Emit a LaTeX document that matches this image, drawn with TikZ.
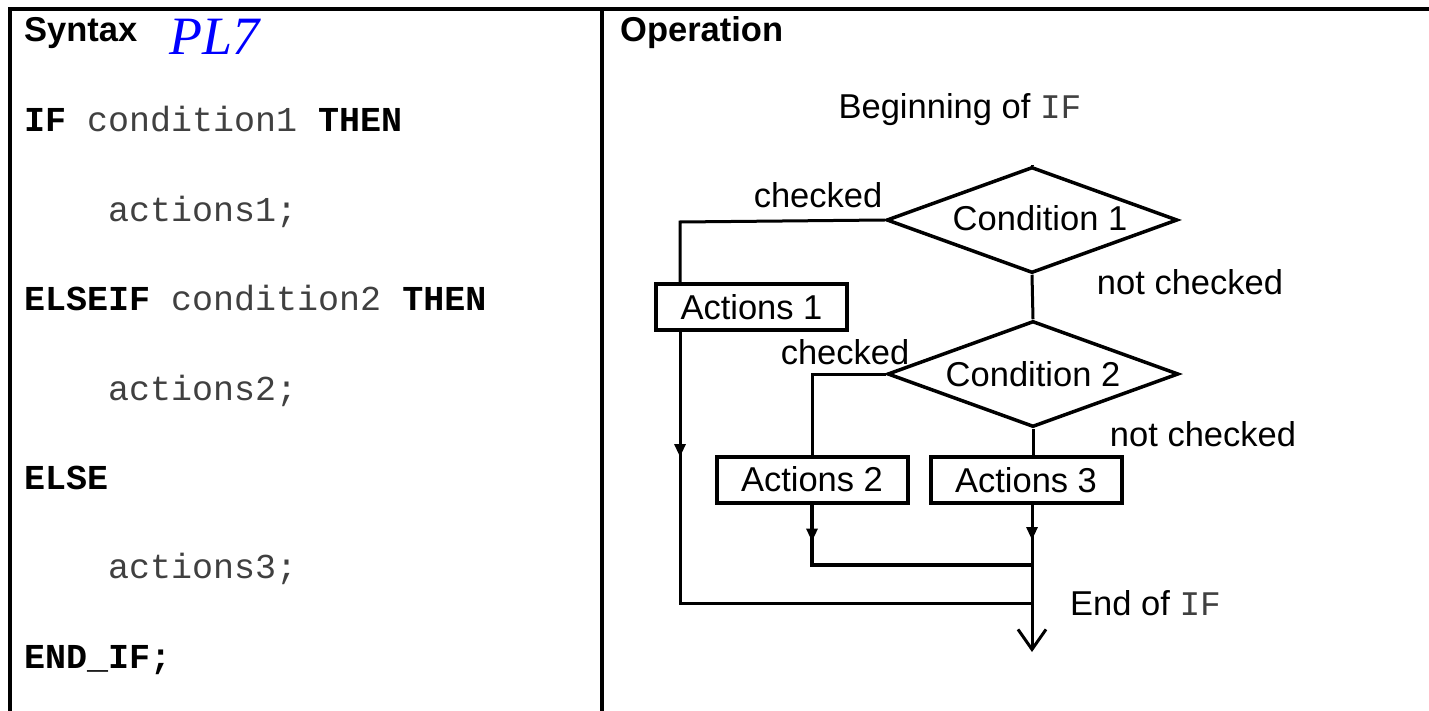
\documentclass[tikz,border=0pt]{standalone}
\usepackage{fontspec}
\setmainfont{Liberation Sans}
\setmonofont{Liberation Mono}
\newfontfamily\plfont{Liberation Serif}
\definecolor{plblue}{HTML}{0000FF}
\definecolor{codegray}{HTML}{404040}
\usetikzlibrary{arrows.meta, decorations.markings, shapes.geometric}

\begin{document}
\begin{tikzpicture}[x=1pt, y=-1pt,
  frame/.style={line width=4pt},
  head/.style={anchor=base west, inner sep=0pt, font=\fontsize{34.5}{40}\selectfont\bfseries},
  code/.style={anchor=base west, inner sep=0pt, text=codegray, font=\fontsize{35}{40}\selectfont\ttfamily},
  txt/.style={font=\fontsize{34.5}{40}\selectfont, inner sep=0pt},
  cond/.style={draw, diamond, line width=3.5pt, aspect=2.745, inner sep=0pt,
    minimum width=291pt, minimum height=106pt, txt},
  actbox/.style={draw, rectangle, line width=4pt, minimum width=191pt,
    minimum height=46pt, txt},
  flow/.style={line width=3pt},
  midarrow/.style={postaction=decorate, decoration={markings,
    mark=at position #1 with {\arrow{Triangle[length=13pt,width=11pt]}}}}
]
\useasboundingbox (0,0) rectangle (1429,711);

% frame
\draw[frame] (10,711) -- (10,9) -- (1429,9);
\draw[frame] (602,9) -- (602,711);

% syntax side
\node[head] (syn) at (24,42) {Syntax};
\node[anchor=base west, text=plblue, font=\fontsize{54}{60}\selectfont\plfont\itshape] (pl) at (166,55) {PL7};
\node[code] (l1) at (24,132) {{\color{black}\bfseries IF} condition1 {\color{black}\bfseries THEN}};
\node[code] (l2) at (24,222) {\ \ \ \ actions1;};
\node[code] (l3) at (24,310) {{\color{black}\bfseries ELSEIF} condition2 {\color{black}\bfseries THEN}};
\node[code] (l4) at (24,400) {\ \ \ \ actions2;};
\node[code, text=black] (l5) at (24,489) {\bfseries ELSE};
\node[code] (l6) at (24,578) {\ \ \ \ actions3;};
\node[code, text=black] (l7) at (24,668) {\bfseries END\_IF;};

% operation side
\node[head] (op) at (620,42) {Operation};
\node[txt, anchor=base] (beg) at (960,119) {Beginning of {\color{codegray}\ttfamily IF}};
\coordinate (top) at (1032,165);
\node[cond] (d1) at (1032,220) {\raisebox{4pt}{\hspace*{16pt}Condition 1}};
\node[cond] (d2) at (1033,374) {Condition 2};
\node[actbox] (a1) at (751.5,307) {Actions 1};
\node[actbox] (a2) at (812,479.5) {Actions 2};
\node[actbox] (a3) at (1026,480) {Actions 3};
\coordinate (c1) at (680,222);
\coordinate (join) at (1032,565);
\coordinate (fin) at (1032,603);
\coordinate (exit) at (1032,652);

\node[txt] (chk1) at (818,195) {checked};
\node[txt] (nchk1) at (1190,282) {not checked};
\node[txt] (chk2) at (845,352) {checked};
\node[txt] (nchk2) at (1203,434) {not checked};
\node[txt, anchor=base west] (endif) at (1070,615) {End of {\color{codegray}\ttfamily IF}};

% connectors
\draw[flow] (top) -- (d1.north);
\draw[flow] (d1.south) -- (d2.north);
\draw[flow] (d1.west) -- (c1) -- (c1 |- a1.north);
\draw[flow, midarrow=125pt] (c1 |- a1.south) -- (c1 |- fin) -- (fin);
\draw[flow] (d2.west) -| (a2.north);
\draw[flow] (d2.south) -- (d2.south |- a3.north);
\draw[flow, line width=4pt, midarrow=37pt] (a2.south) |- (join);
\draw[flow, midarrow=35pt, -{Straight Barb[length=20pt,width=28pt]}] (a3.south -| join) -- (exit);
\end{tikzpicture}
\end{document}
